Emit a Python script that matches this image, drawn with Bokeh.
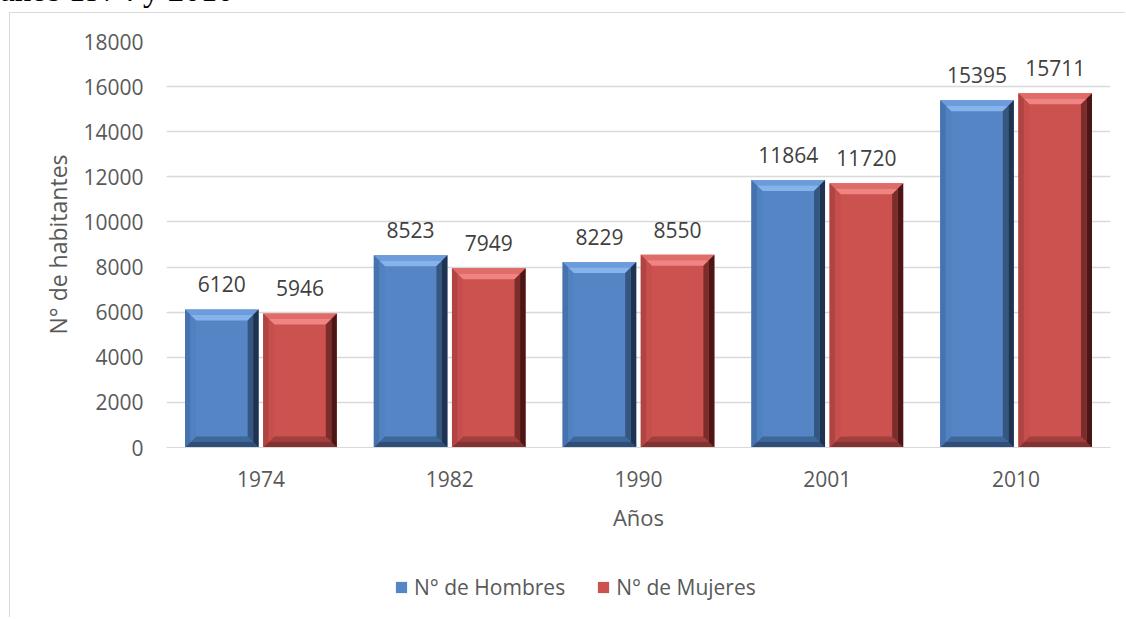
from bokeh.plotting import figure
from bokeh.models import (ColumnDataSource, Range1d, FixedTicker, Legend, LegendItem,
                          LabelSet, Div)
from bokeh.core.properties import value
from bokeh.layouts import column
from bokeh.embed import file_html
from bokeh.resources import INLINE

# ---- data ----
years = ["1974", "1982", "1990", "2001", "2010"]
hombres = [6120, 8523, 8229, 11864, 15395]
mujeres = [5946, 7949, 8550, 11720, 15711]
y_ticks = [0, 2000, 4000, 6000, 8000, 10000, 12000, 14000, 16000, 18000]
series_names = ["N° de Hombres", "N° de Mujeres"]
title_text = "años 1974 y 2010"
x_title = "Años"
y_title = "N° de habitantes"

FONT = "Open Sans"
TXT = "#595959"
GRID = "#d9d9d9"

main_colors = ["#5585C5", "#CC5250"]
bevel_colors = [
    {"top": ("#6C9CDB", "#86B3EC"), "left": ("#4672AE", "#5082C2"),
     "right": ("#1F3350", "#34567F"), "bottom": ("#2F4E78", "#3F6699")},
    {"top": ("#E06C69", "#EE8582"), "left": ("#B04442", "#C64E4C"),
     "right": ("#4A1716", "#7A2D2B"), "bottom": ("#823230", "#A03F3D")},
]

OFF = 0.207
BW = 0.39
YMAX = 18000

W, H = 1116, 542
ML, MT, FW, FH = 156, 28, 944, 406

p = figure(width=W, height=H, x_range=Range1d(0, len(years)), y_range=Range1d(0, YMAX),
           output_backend="svg", toolbar_location=None,
           min_border_left=ML, min_border_top=MT, min_border_right=W - ML - FW,
           min_border_bottom=H - MT - FH)
p.margin = (3, 0, 0, 9)
p.styles = {"border-left": "1px solid #d9d9d9", "border-top": "1px solid #d9d9d9"}
p.outline_line_color = None
p.background_fill_color = "white"
p.border_fill_color = "white"

xc = [i + 0.5 for i in range(len(years))]
series = [hombres, mujeres]
offsets = [-OFF, OFF]

# bevel sizes (pixels -> data units)
bx = 11 / FW * len(years)
by = 11 / FH * YMAX

renderers = []
bev = {"xs": [], "ys": [], "c": []}
lab = {"x": [], "y": [], "t": []}
for s, vals in enumerate(series):
    xs = [c + offsets[s] for c in xc]
    src = ColumnDataSource(dict(x=xs, top=vals))
    r = p.vbar(x="x", top="top", bottom=0, width=BW, source=src,
               fill_color=main_colors[s], line_color=None)
    renderers.append(r)
    for x, v in zip(xs, vals):
        x0, x1 = x - BW / 2, x + BW / 2
        lab["x"].append(x); lab["y"].append(v); lab["t"].append(str(v))
        for band in (0, 1):
            f0, f1 = band * 0.5, (band + 1) * 0.5
            bev["xs"].append([x0 + bx * f0, x1 - bx * f0, x1 - bx * f1, x0 + bx * f1])
            bev["ys"].append([v - by * f0, v - by * f0, v - by * f1, v - by * f1])
            bev["c"].append(bevel_colors[s]["top"][band])
            bev["xs"].append([x0 + bx * f0, x1 - bx * f0, x1 - bx * f1, x0 + bx * f1])
            bev["ys"].append([by * f0, by * f0, by * f1, by * f1])
            bev["c"].append(bevel_colors[s]["bottom"][band])
            bev["xs"].append([x0 + bx * f0, x0 + bx * f0, x0 + bx * f1, x0 + bx * f1])
            bev["ys"].append([v - by * f0, by * f0, by * f1, v - by * f1])
            bev["c"].append(bevel_colors[s]["left"][band])
            bev["xs"].append([x1 - bx * f0, x1 - bx * f0, x1 - bx * f1, x1 - bx * f1])
            bev["ys"].append([v - by * f0, by * f0, by * f1, v - by * f1])
            bev["c"].append(bevel_colors[s]["right"][band])

p.patches(xs="xs", ys="ys", fill_color="c", line_color=None, source=ColumnDataSource(bev))

labels = LabelSet(x="x", y="y", text="t", source=ColumnDataSource(lab), text_align="center",
                  text_baseline="alphabetic", y_offset=17, text_font=value(FONT),
                  text_font_size=value("21px"), text_color=value("#404040"))
p.add_layout(labels)

# axes
p.xaxis.ticker = FixedTicker(ticks=xc)
p.xaxis.major_label_overrides = {c: y for c, y in zip(xc, years)}
p.yaxis.ticker = FixedTicker(ticks=y_ticks)
for ax in (p.xaxis, p.yaxis):
    ax.major_tick_line_color = None
    ax.minor_tick_line_color = None
    ax.major_label_text_font = FONT
    ax.major_label_text_font_size = "21px"
    ax.major_label_text_color = TXT
    ax.axis_label_text_font = FONT
    ax.axis_label_text_font_style = "normal"
    ax.axis_label_text_color = TXT
p.yaxis.axis_line_color = None
p.xaxis.axis_line_color = GRID
p.xaxis.major_label_standoff = 17
p.yaxis.major_label_standoff = 17
p.xaxis.axis_label = x_title
p.yaxis.axis_label = y_title
p.xaxis.axis_label_text_font_size = "22px"
p.yaxis.axis_label_text_font_size = "23px"
p.xaxis.axis_label_standoff = 12
p.yaxis.axis_label_standoff = 6
p.xgrid.grid_line_color = None
p.ygrid.grid_line_color = GRID
p.ygrid.grid_line_width = 1.3

# legend strip below the plot
LH = 63
lf = figure(width=W, height=LH, x_range=Range1d(0, 1), y_range=Range1d(0, 1),
            output_backend="svg", toolbar_location=None, min_border=0)
lf.margin = (0, 0, 0, 9)
lf.styles = {"border-left": "1px solid #d9d9d9"}
lf.axis.visible = False
lf.grid.visible = False
lf.outline_line_color = None
# legend proxies: zero-size bars, so only their legend swatches show
proxies = [lf.vbar(x=[0.5], top=[0], bottom=0, width=0, fill_color=c, line_color=None)
           for c in main_colors]
legend = Legend(items=[LegendItem(label=n, renderers=[r]) for n, r in zip(series_names, proxies)],
                orientation="horizontal", location=(228, 16), padding=0, margin=0,
                spacing=31, glyph_width=14, glyph_height=14, label_standoff=6, label_height=28,
                label_text_font=FONT, label_text_font_size="21px", label_text_color=TXT,
                border_line_color=None, background_fill_alpha=0)
lf.add_layout(legend, "center")

title = Div(text=title_text, width=500, height=37, margin=(-28, 0, 0, 0),
            styles={"font-family": "Liberation Serif", "font-size": "33px", "color": "black",
                    "line-height": "1.15", "white-space": "nowrap"})

layout = column(title, p, lf, spacing=0)
open("out.html", "w").write(file_html(layout, INLINE))
